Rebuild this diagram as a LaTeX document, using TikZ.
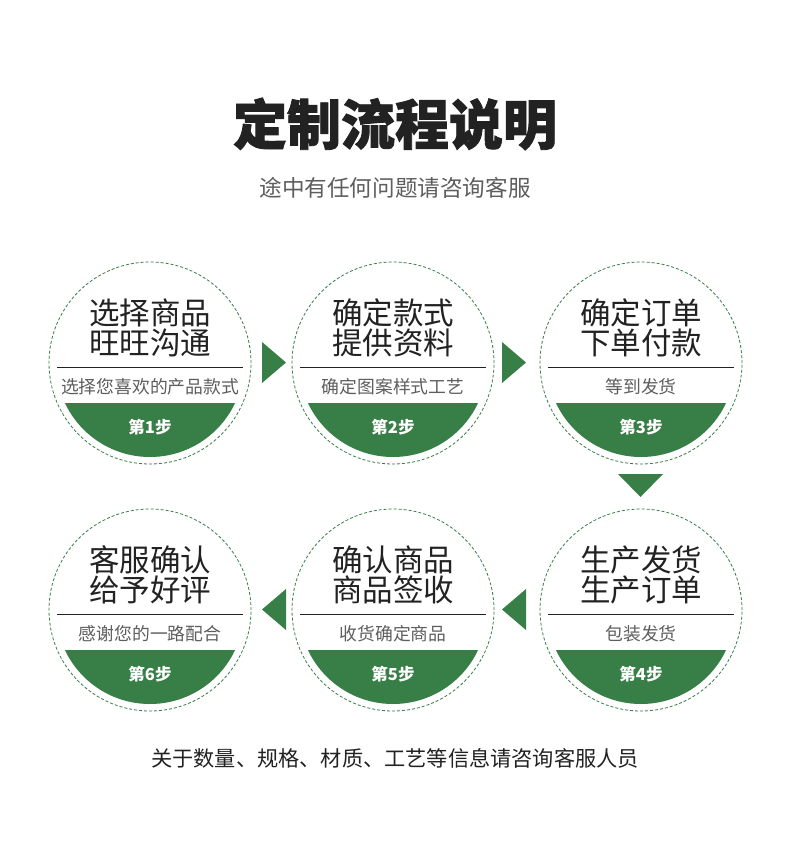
\documentclass[tikz,border=0pt]{standalone}
\usepackage{fontspec}
\setmainfont{Noto Sans CJK SC}
\newfontfamily\cjk{Noto Sans CJK SC}
\newfontfamily\cjkheavy{Noto Sans CJK SC}[BoldFeatures={FakeBold=1.6}]
\definecolor{grn}{HTML}{387E47}
\definecolor{ink}{HTML}{222222}
\definecolor{gry}{HTML}{5E5E5E}
\tikzset{
  ring/.style={circle, draw=grn, line width=0.8pt, dash pattern=on 3pt off 2pt, minimum size=202pt, inner sep=0pt},
  bigtxt/.style={font=\cjk\fontsize{30.5}{33}\selectfont, text=ink, inner sep=0pt},
  subtxt/.style={font=\cjk\fontsize{17.8}{20}\selectfont, text=gry, inner sep=0pt},
  steptxt/.style={font=\cjk\bfseries\fontsize{16.5}{20}\selectfont, text=white, inner sep=0pt},
  sep/.style={draw=ink, line width=0.9pt},
  tri/.style={fill=grn}
}
\newcommand\stepcirc[7]{%
  \node[ring] (c#1) at (#2,#3) {};
  \begin{scope}
    \clip (#2-100,#3+40) rectangle (#2+100,#3+100);
    \fill[grn] (c#1.center) circle[radius=94pt];
  \end{scope}
  \coordinate (l#1) at (#2-93,#3+4);
  \coordinate (r#1) at (#2+93,#3+4);
  \draw[sep] (l#1) -- (r#1);
  \node[bigtxt] (ta#1) at (#2,#3-50) {#4};
  \node[bigtxt] (tb#1) at (#2,#3-20) {#5};
  \node[subtxt] (s#1) at (#2,#3+24) {#6};
  \node[steptxt] (n#1) at (#2,#3+64) {#7};
}
\begin{document}
\begin{tikzpicture}[x=1pt,y=-1pt]
\useasboundingbox[fill=white] (0,0) rectangle (790,866);
\node[font=\cjkheavy\bfseries\fontsize{54}{60}\selectfont, text=ink, inner sep=0pt] (title) at (395,124) {定制流程说明};
\node[font=\cjk\fontsize{22.6}{26}\selectfont, text=gry, inner sep=0pt] (subtitle) at (395,188) {途中有任何问题请咨询客服};

\stepcirc{1}{150}{363}{选择商品}{旺旺沟通}{选择您喜欢的产品款式}{第1步}
\stepcirc{2}{393}{363}{确定款式}{提供资料}{确定图案样式工艺}{第2步}
\stepcirc{3}{641}{363}{确定订单}{下单付款}{等到发货}{第3步}
\stepcirc{4}{641}{610}{生产发货}{生产订单}{包装发货}{第4步}
\stepcirc{5}{393}{610}{确认商品}{商品签收}{收货确定商品}{第5步}
\stepcirc{6}{150}{610}{客服确认}{给予好评}{感谢您的一路配合}{第6步}

% arrows
\fill[tri] (262,342) -- (286,362.5) -- (262,383) -- cycle;
\fill[tri] (502,342) -- (526,362.5) -- (502,383) -- cycle;
\fill[tri] (618,474) -- (663,474) -- (640.5,497) -- cycle;
\fill[tri] (526,589) -- (502,609.5) -- (526,630) -- cycle;
\fill[tri] (286,589) -- (262,609.5) -- (286,630) -- cycle;

\node[font=\cjk\fontsize{21.2}{24}\selectfont, text=ink, inner sep=0pt] (footer) at (395,758) {关于数量、规格、材质、工艺等信息请咨询客服人员};
\end{tikzpicture}
\end{document}
